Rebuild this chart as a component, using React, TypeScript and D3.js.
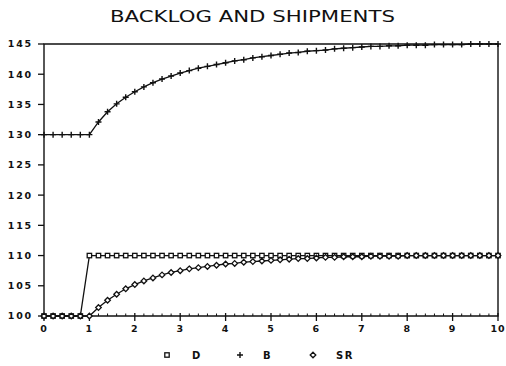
import React from "react";
import * as d3 from "d3";

// Time axis: 0 to 10 in steps of 0.2
const times: number[] = d3.range(0, 10.0001, 0.2).map((t) => +t.toFixed(1));

// D: demand, steps from 100 to 110 at t = 1
const seriesD: number[] = [
  100, 100, 100, 100, 100,
  110, 110, 110, 110, 110, 110, 110, 110, 110, 110,
  110, 110, 110, 110, 110, 110, 110, 110, 110, 110,
  110, 110, 110, 110, 110, 110, 110, 110, 110, 110,
  110, 110, 110, 110, 110, 110, 110, 110, 110, 110,
  110, 110, 110, 110, 110, 110,
];

// B: backlog
const seriesB: number[] = [
  130, 130, 130, 130, 130, 130,
  132.1, 133.8, 135.1, 136.2, 137.1, 137.9, 138.6, 139.2, 139.7, 140.2,
  140.6, 141.0, 141.3, 141.6, 141.9, 142.2, 142.4, 142.7, 142.9, 143.1,
  143.3, 143.5, 143.6, 143.8, 143.9, 144.0, 144.2, 144.3, 144.4, 144.5,
  144.6, 144.6, 144.7, 144.7, 144.8,
  144.8, 144.8, 144.9, 144.9, 144.9, 144.9, 145, 145, 145, 145,
];

// SR: shipment rate
const seriesSR: number[] = [
  100, 100, 100, 100, 100, 100,
  101.4, 102.6, 103.6, 104.5, 105.2, 105.8, 106.3, 106.8, 107.2, 107.5,
  107.8, 108.0, 108.2, 108.4, 108.6, 108.7, 108.9, 109.0, 109.1, 109.2,
  109.3, 109.4, 109.5, 109.5, 109.6, 109.7, 109.7, 109.8, 109.8, 109.8,
  109.9, 109.9, 109.9, 109.9, 110,
  110, 110, 110, 110, 110, 110, 110, 110, 110, 110,
];

const xTicks: number[] = [0, 1, 2, 3, 4, 5, 6, 7, 8, 9, 10];
const yTicks: number[] = [100, 105, 110, 115, 120, 125, 130, 135, 140, 145];
const legendLabels: string[] = ["D", "B", "SR"];
const title = "BACKLOG AND SHIPMENTS";

const W = 506;
const H = 366;
const left = 44;
const right = 498;
const top = 44;
const bottom = 316;

const INK = "#111";
const tickFont = "'DejaVu Sans', sans-serif";

type Marker = "square" | "plus" | "diamond";

function MarkerShape({ kind, x, y }: { kind: Marker; x: number; y: number }) {
  if (kind === "square") {
    return <rect x={x - 2.2} y={y - 2.2} width={4.4} height={4.4} fill="#fff" stroke={INK} strokeWidth={1.3} />;
  }
  if (kind === "plus") {
    return (
      <path d={`M${x - 3},${y}H${x + 3}M${x},${y - 3}V${y + 3}`} stroke={INK} strokeWidth={1.4} fill="none" />
    );
  }
  return (
    <path d={`M${x},${y - 2.8}L${x + 2.8},${y}L${x},${y + 2.8}L${x - 2.8},${y}Z`} fill="#fff" stroke={INK} strokeWidth={1.3} />
  );
}

export default function App() {
  const x = d3.scaleLinear().domain([0, 10]).range([left, right]);
  const y = d3.scaleLinear().domain([100, 145]).range([bottom, top]);
  const line = d3
    .line<number>()
    .x((_, i) => x(times[i]))
    .y((v) => y(v));

  const series: { values: number[]; marker: Marker }[] = [
    { values: seriesD, marker: "square" },
    { values: seriesSR, marker: "diamond" },
    { values: seriesB, marker: "plus" },
  ];

  const minorTicks = d3.range(0, 10.0001, 0.2).filter((t) => Math.abs(t - Math.round(t)) > 1e-6);

  const legendItems: { marker: Marker; mx: number; tx: number }[] = [
    { marker: "square", mx: 167, tx: 192 },
    { marker: "plus", mx: 240, tx: 263 },
    { marker: "diamond", mx: 313, tx: 336 },
  ];

  return (
    <svg width={W} height={H} style={{ position: "absolute", left: 0, top: 0, background: "#fff" }}>
      <text
        x={110}
        y={22}
        textLength={285}
        lengthAdjust="spacingAndGlyphs"
        fontFamily="'DejaVu Sans', sans-serif"
        fontSize={16}
        fill={INK}
      >
        {title}
      </text>

      {/* frame */}
      <path d={`M${left},${bottom}V${top}H${right}V${bottom}H${left}`} fill="none" stroke={INK} strokeWidth={1.4} />

      {/* y axis ticks and labels */}
      {yTicks.map((v) => (
        <g key={v}>
          <line x1={left - 6} x2={left} y1={y(v)} y2={y(v)} stroke={INK} strokeWidth={1.3} />
          <text
            x={33}
            y={y(v)}
            dy="0.36em"
            textAnchor="end"
            fontFamily={tickFont}
            fontWeight="bold"
            fontSize={9.5}
            letterSpacing={1.8}
            fill={INK}
          >
            {v}
          </text>
        </g>
      ))}

      {/* x axis ticks and labels */}
      {minorTicks.map((t) => (
        <line key={`m${t}`} x1={x(t)} x2={x(t)} y1={bottom - 2.5} y2={bottom} stroke={INK} strokeWidth={1} />
      ))}
      {xTicks.map((t) => (
        <g key={t}>
          <line x1={x(t)} x2={x(t)} y1={bottom - 3} y2={bottom + 5} stroke={INK} strokeWidth={1.3} />
          <text
            x={x(t)}
            y={332}
            textAnchor="middle"
            fontFamily={tickFont}
            fontWeight="bold"
            fontSize={9.5}
            letterSpacing={1}
            fill={INK}
          >
            {t}
          </text>
        </g>
      ))}

      {/* series */}
      {series.map((s, si) => (
        <g key={si}>
          <path d={line(s.values) ?? ""} fill="none" stroke={INK} strokeWidth={1.3} />
          {s.values.map((v, i) => (
            <MarkerShape key={i} kind={s.marker} x={x(times[i])} y={y(v)} />
          ))}
        </g>
      ))}

      {/* legend */}
      {legendItems.map((item, i) => (
        <g key={i}>
          <MarkerShape kind={item.marker} x={item.mx} y={355} />
          <text
            x={item.tx}
            y={359}
            fontFamily={tickFont}
            fontWeight="bold"
            fontSize={10}
            letterSpacing={1.5}
            fill={INK}
          >
            {legendLabels[i]}
          </text>
        </g>
      ))}
    </svg>
  );
}
